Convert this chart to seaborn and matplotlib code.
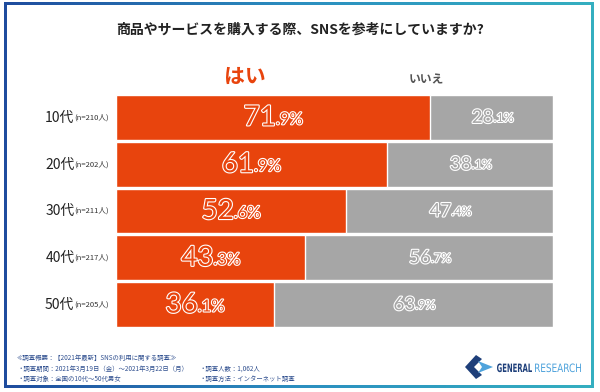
import numpy as np
import pandas as pd
import matplotlib.pyplot as plt
import matplotlib.patheffects as pe
from matplotlib.patches import Polygon, Rectangle, PathPatch
from matplotlib.textpath import TextPath
from matplotlib.font_manager import FontProperties
from matplotlib.transforms import Affine2D
import seaborn as sns

# survey data
ages = ["10代", "20代", "30代", "40代", "50代"]
sample_n = [210, 202, 211, 217, 205]
yes_pct = [71.9, 61.9, 52.6, 43.3, 36.1]
no_pct = [28.1, 38.1, 47.4, 56.7, 63.9]

ORANGE = "#E8440D"
GRAY = "#A6A6A6"
NAVY = "#1E3F7A"
LIGHT = "#4FA3DC"

sns.set_style("white")
plt.rcParams["font.family"] = ["Noto Sans CJK JP", "DejaVu Sans"]

df = pd.DataFrame({"age": ages, "n": sample_n, "yes": yes_pct, "no": no_pct})
df["total"] = df["yes"] + df["no"]

fig = plt.figure(figsize=(6, 3.92), dpi=100)

# frame with blue -> teal gradient
bg = fig.add_axes([0, 0, 1, 1], zorder=-5)
bg.set_xlim(0, 600)
bg.set_ylim(392, 0)
bg.axis("off")
grad = np.linspace(0, 1, 256).reshape(1, -1)
cmap = sns.blend_palette(["#1F4C9E", "#2B8FC0", "#35AFC0"], as_cmap=True)
bg.imshow(grad, cmap=cmap, aspect="auto", extent=(4, 594, 388, 2), zorder=0)
bg.add_patch(Rectangle((7, 5), 584, 380, facecolor="white", edgecolor="none", zorder=1))

ax = fig.add_axes([116 / 600, 1 - 328 / 392, 437 / 600, 234 / 392])
sns.barplot(data=df, x="total", y="age", orient="h", color=GRAY, width=0.955,
            saturation=1, ax=ax)
sns.barplot(data=df, x="yes", y="age", orient="h", color=ORANGE, width=0.955,
            saturation=1, ax=ax)
ax.set_xlim(0, 100)
ax.set_ylim(4.5, -0.5)
ax.axis("off")


def pct_label(x, y, value, big, small, color):
    whole, frac = f"{value:.1f}".split(".")
    stroke = [pe.Stroke(linewidth=1.6, foreground="white"), pe.Normal()]
    t = ax.annotate(whole, xy=(x, y), xytext=(big * 0.1, 0), textcoords="offset points",
                    ha="right", va="center", fontsize=big, color=color,
                    family="Lato", path_effects=stroke)
    ax.annotate("." + frac + "%", xy=(1, 0.12), xycoords=t, ha="left", va="bottom",
                fontsize=small, color=color, family="Lato", path_effects=stroke)


for i, row in df.iterrows():
    pct_label(row["yes"] / 2, i, row["yes"], 20, 12, ORANGE)
    pct_label(row["yes"] + row["no"] / 2, i, row["no"], 13.5, 9, GRAY)
    nt = ax.annotate(f"(n={row['n']}人)", xy=(0, i), xycoords=("axes fraction", "data"),
                     xytext=(-5, 0), textcoords="offset points",
                     ha="right", va="center", fontsize=5.5, color="#333333")
    ax.annotate(row["age"], xy=(0, 0.45), xycoords=nt, ha="right", va="center",
                fontsize=10, color="#222222")

# title and legend words
fig.text(0.5, 1 - 30 / 392, "商品やサービスを購入する際、SNSを参考にしていますか?",
         ha="center", va="center", fontsize=10, fontweight="bold", color="#222222")
fig.text(245 / 600, 1 - 76 / 392, "はい", ha="center", va="center",
         fontsize=15, fontweight="bold", color=ORANGE)
fig.text(426 / 600, 1 - 80 / 392, "いいえ", ha="center", va="center",
         fontsize=8.5, fontweight="bold", color="#555555")

# footer notes
note = dict(fontsize=4.6, color="#2F4F8F", va="center")
fig.text(17 / 600, 1 - 358 / 392, "≪調査概要：【2021年最新】SNSの利用に関する調査≫", **note)
fig.text(17 / 600, 1 - 369 / 392, "・調査期間：2021年3月19日（金）～2021年3月22日（月）", **note)
fig.text(17 / 600, 1 - 379 / 392, "・調査対象：全国の10代～50代男女", **note)
fig.text(200 / 600, 1 - 369 / 392, "・調査人数：1,062人", **note)
fig.text(200 / 600, 1 - 379 / 392, "・調査方法：インターネット調査", **note)

# logo
bg.add_patch(Polygon([(476, 355), (465, 367), (476, 379), (482, 375), (474, 367), (482, 359)],
                     closed=True, facecolor=NAVY, edgecolor="none", zorder=3))
bg.add_patch(Polygon([(478, 361), (493, 367), (478, 373), (482, 367)],
                     closed=True, facecolor=LIGHT, edgecolor="none", zorder=3))


def squeezed_word(word, x0, x1, weight, color):
    tp = TextPath((0, 0), word, size=11.5, prop=FontProperties(family="DejaVu Sans", weight=weight))
    ext = tp.get_extents()
    sx = (x1 - x0) / ext.width
    tr = Affine2D().translate(-ext.x0, 0).scale(sx, -1).translate(x0, 372) + bg.transData
    bg.add_patch(PathPatch(tp, transform=tr, facecolor=color, edgecolor="none", zorder=3))


squeezed_word("GENERAL", 497, 532, "bold", NAVY)
squeezed_word("RESEARCH", 535, 581, "normal", LIGHT)

fig.savefig("out.png", dpi=100)
